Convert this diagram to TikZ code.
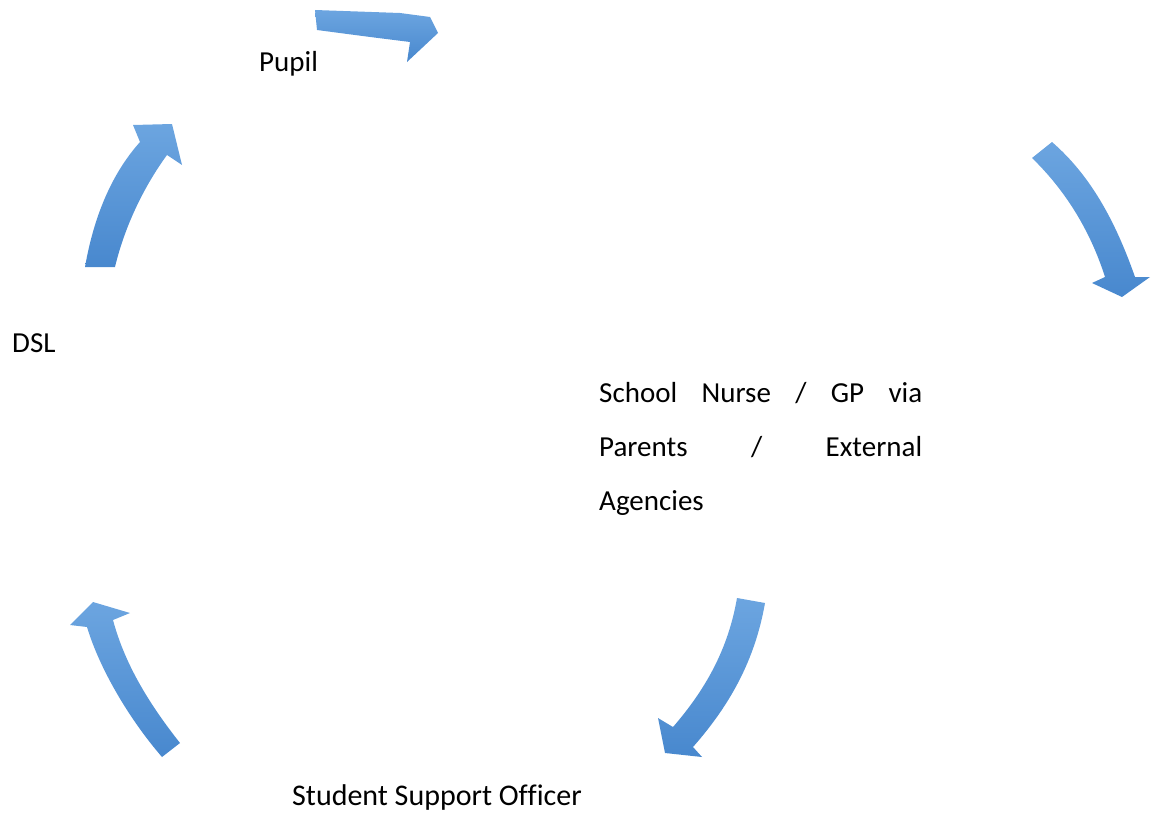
\documentclass[tikz,border=0pt]{standalone}
\usepackage{fontspec}
\setmainfont{Carlito}[Ligatures=NoCommon]
\definecolor{arrtop}{RGB}{108,165,224}
\definecolor{arrbot}{RGB}{72,136,206}
\tikzset{
  cyclearrow/.style={top color=arrtop, bottom color=arrbot, draw=none},
  lbl/.style={anchor=base west, inner sep=0pt, font=\fontsize{29}{34}\selectfont, text=black}
}
\begin{document}
\begin{tikzpicture}[x=1pt,y=-1pt]
\useasboundingbox (0,0) rectangle (1158,816);
% arrows
\path[cyclearrow] (315,10) -- (400,13) -- (430,17) -- (438,33) -- (407,62) -- (410,42) .. controls (370,37) .. (317,30) -- cycle;
\path[cyclearrow] (1032,158) .. controls (1065,190) and (1090,230) .. (1105,277) -- (1092,283) -- (1122,297) -- (1150,277) -- (1135,277) .. controls (1115,220) and (1090,175) .. (1052,142) -- cycle;
\path[cyclearrow] (737,598) -- (765,603) .. controls (755,660) and (730,705) .. (693,747) -- (702,757) -- (665,753) -- (658,718) -- (673,727) .. controls (705,690) and (728,650) .. (737,598) -- cycle;
\path[cyclearrow] (162,757) .. controls (130,720) and (100,670) .. (87,627) -- (70,625) -- (93,602) -- (130,613) -- (113,620) .. controls (125,665) and (150,705) .. (180,743) -- cycle;
\path[cyclearrow] (85,267) .. controls (95,210) and (115,170) .. (140,142) -- (133,125) -- (172,124) -- (182,165) -- (167,155) .. controls (145,185) and (125,225) .. (115,267) -- cycle;
% labels
\node[lbl] (pupil) at (259,71) {Pupil};
\node[lbl] (dsl) at (12,352) {DSL};
\node[lbl] (school1) at (599,402) {\makebox[323pt][s]{School Nurse / GP via}};
\node[lbl] (school2) at (599,456) {\makebox[323pt][s]{Parents / External}};
\node[lbl] (school3) at (599,510) {Agencies};
\node[lbl, font=\fontsize{30}{34}\selectfont] (sso) at (292,805) {Student Support Officer};
\end{tikzpicture}
\end{document}
